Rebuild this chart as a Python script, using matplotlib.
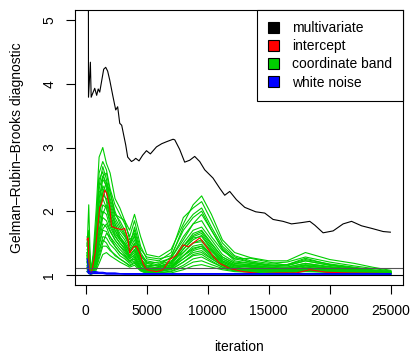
import matplotlib
matplotlib.use("Agg")
import matplotlib.pyplot as plt
from matplotlib.patches import Patch

plt.rcParams['font.family'] = ['Liberation Sans', 'DejaVu Sans']

# multivariate (black)
multi_iter = [120, 230, 385, 450, 740, 900, 1025, 1150, 1475, 1640, 1800, 1970, 2215, 2460,
              2620, 2790, 2950, 3280, 3440, 3750, 3930, 4100, 4370, 4670, 4980, 5300, 5800,
              6230, 6610, 7160, 7300, 7700, 8110, 8520, 8930, 9340, 9750, 10430, 10980, 11390,
              11800, 12350, 13030, 13930, 14670, 15350, 16170, 16860, 17680, 18360, 18770,
              19450, 20270, 21090, 21780, 22600, 23420, 24370, 24960]
multi_R = [30.0, 3.79, 4.34, 3.79, 3.93, 3.82, 3.92, 3.87, 4.23, 4.26, 4.20, 4.06, 3.82, 3.59,
           3.64, 3.38, 3.35, 3.04, 2.85, 2.78, 2.80, 2.83, 2.79, 2.88, 2.95, 2.90, 3.01,
           3.06, 3.09, 3.13, 3.12, 2.97, 2.77, 2.80, 2.86, 2.78, 2.65, 2.52, 2.36, 2.25,
           2.31, 2.18, 2.06, 1.99, 1.97, 1.87, 1.84, 1.80, 1.82, 1.84, 1.78,
           1.66, 1.69, 1.80, 1.84, 1.77, 1.73, 1.68, 1.67]

# intercept (red)
icpt_iter = [120, 200, 290, 370, 450, 570, 780, 980, 1150, 1310, 1560, 1720, 1970, 2110,
             2520, 2930, 3200, 3470, 3610, 3930, 4160, 4430, 4700, 4980, 5800, 6340, 6890,
             7430, 7980, 8390, 8800, 9350, 9890, 10440, 10980, 11800, 12890, 14260, 15900,
             17270, 18360, 19730, 21370, 24920]
icpt_R = [1.55, 1.58, 1.08, 1.03, 1.02, 1.12, 1.35, 1.75, 2.06, 2.12, 2.33, 2.28, 2.07, 1.76,
          1.73, 1.71, 1.73, 1.55, 1.34, 1.44, 1.45, 1.34, 1.18, 1.08, 1.05, 1.08, 1.24,
          1.31, 1.47, 1.44, 1.50, 1.58, 1.44, 1.29, 1.18, 1.10, 1.05, 1.02, 1.03,
          1.03, 1.08, 1.04, 1.03, 1.02]

# coordinate band (green) and white noise (blue) share one iteration grid
band_iter = [120, 250, 400, 600, 850, 1100, 1400, 1700, 2000, 2400, 2800, 3200, 3600, 4000,
             4500, 5000, 6000, 7000, 8000, 8800, 9500, 10300, 11200, 12200, 13500, 15000,
             16500, 18000, 20000, 22000, 23500, 25000]

coord_band = [
    [1.45, 2.10, 1.05, 1.30, 2.00, 2.85, 3.00, 2.75, 2.60, 2.20, 2.05, 1.85, 1.70, 1.95, 1.60, 1.32,
     1.28, 1.40, 1.80, 2.10, 2.24, 1.95, 1.55, 1.35, 1.27, 1.22, 1.22, 1.35, 1.24, 1.18, 1.12, 1.07],
    [1.30, 1.60, 1.08, 1.20, 1.80, 2.60, 2.78, 2.65, 2.35, 2.10, 1.95, 1.80, 1.60, 1.85, 1.45, 1.25,
     1.22, 1.35, 1.90, 2.05, 2.15, 1.85, 1.50, 1.30, 1.22, 1.18, 1.20, 1.28, 1.20, 1.14, 1.10, 1.06],
    [1.50, 1.40, 1.03, 1.15, 1.70, 2.40, 2.70, 2.50, 2.20, 1.95, 1.85, 1.70, 1.50, 1.70, 1.35, 1.20,
     1.15, 1.28, 1.75, 1.95, 2.05, 1.75, 1.45, 1.28, 1.20, 1.15, 1.16, 1.24, 1.17, 1.12, 1.08, 1.05],
    [1.20, 1.35, 1.05, 1.25, 1.60, 2.20, 2.50, 2.40, 2.10, 1.85, 1.70, 1.60, 1.45, 1.60, 1.30, 1.18,
     1.20, 1.26, 1.55, 1.80, 1.85, 1.60, 1.38, 1.25, 1.26, 1.20, 1.15, 1.22, 1.15, 1.10, 1.07, 1.05],
    [1.35, 1.25, 1.02, 1.10, 1.50, 2.00, 2.40, 2.30, 2.00, 1.80, 1.65, 1.55, 1.40, 1.55, 1.25, 1.14,
     1.10, 1.20, 1.50, 1.70, 1.75, 1.55, 1.32, 1.20, 1.18, 1.14, 1.12, 1.18, 1.13, 1.09, 1.06, 1.04],
    [1.25, 1.45, 1.06, 1.18, 1.45, 1.90, 2.25, 2.20, 1.95, 1.75, 1.60, 1.50, 1.35, 1.45, 1.22, 1.12,
     1.08, 1.17, 1.45, 1.65, 1.70, 1.50, 1.28, 1.18, 1.15, 1.12, 1.10, 1.16, 1.12, 1.08, 1.06, 1.04],
    [1.15, 1.20, 1.04, 1.12, 1.40, 1.80, 2.10, 2.05, 1.85, 1.65, 1.55, 1.45, 1.30, 1.40, 1.20, 1.10,
     1.12, 1.15, 1.40, 1.55, 1.62, 1.42, 1.25, 1.16, 1.14, 1.10, 1.09, 1.14, 1.10, 1.07, 1.05, 1.03],
    [1.40, 1.30, 1.03, 1.08, 1.35, 1.70, 2.00, 1.95, 1.75, 1.60, 1.50, 1.40, 1.28, 1.35, 1.18, 1.08,
     1.06, 1.12, 1.35, 1.50, 1.55, 1.38, 1.22, 1.14, 1.12, 1.09, 1.08, 1.12, 1.09, 1.06, 1.04, 1.03],
    [1.10, 1.15, 1.02, 1.10, 1.30, 1.60, 1.90, 1.85, 1.70, 1.55, 1.45, 1.35, 1.25, 1.32, 1.15, 1.09,
     1.05, 1.10, 1.30, 1.45, 1.48, 1.32, 1.20, 1.12, 1.10, 1.08, 1.07, 1.10, 1.08, 1.05, 1.04, 1.03],
    [1.30, 1.10, 1.05, 1.06, 1.25, 1.55, 1.80, 1.75, 1.60, 1.50, 1.40, 1.32, 1.22, 1.28, 1.12, 1.06,
     1.10, 1.12, 1.25, 1.38, 1.42, 1.28, 1.17, 1.10, 1.09, 1.07, 1.06, 1.09, 1.07, 1.05, 1.03, 1.02],
    [1.20, 1.25, 1.02, 1.05, 1.20, 1.45, 1.70, 1.68, 1.55, 1.45, 1.35, 1.28, 1.20, 1.25, 1.10, 1.05,
     1.05, 1.08, 1.20, 1.32, 1.35, 1.25, 1.15, 1.09, 1.08, 1.06, 1.06, 1.08, 1.06, 1.04, 1.03, 1.02],
    [1.05, 1.10, 1.02, 1.04, 1.15, 1.35, 1.60, 1.58, 1.48, 1.40, 1.30, 1.25, 1.18, 1.22, 1.08, 1.04,
     1.03, 1.06, 1.15, 1.25, 1.28, 1.20, 1.12, 1.07, 1.06, 1.05, 1.05, 1.07, 1.05, 1.04, 1.03, 1.02],
    [1.15, 1.05, 1.01, 1.03, 1.10, 1.25, 1.45, 1.45, 1.38, 1.32, 1.25, 1.20, 1.14, 1.18, 1.07, 1.03,
     1.03, 1.05, 1.12, 1.20, 1.22, 1.16, 1.10, 1.06, 1.05, 1.04, 1.04, 1.06, 1.04, 1.03, 1.02, 1.02],
    [1.08, 1.02, 1.01, 1.02, 1.07, 1.18, 1.32, 1.35, 1.30, 1.25, 1.20, 1.16, 1.12, 1.15, 1.06, 1.02,
     1.02, 1.03, 1.08, 1.14, 1.16, 1.12, 1.08, 1.05, 1.04, 1.03, 1.03, 1.05, 1.04, 1.03, 1.02, 1.01],
    [1.60, 1.30, 1.03, 1.10, 1.40, 1.90, 2.30, 2.45, 2.30, 1.95, 1.90, 1.85, 1.55, 1.65, 1.30, 1.22,
     1.18, 1.26, 1.60, 1.80, 1.95, 1.70, 1.42, 1.25, 1.20, 1.16, 1.14, 1.22, 1.15, 1.10, 1.07, 1.04],
    [1.25, 1.50, 1.04, 1.15, 1.55, 2.10, 2.55, 2.60, 2.30, 2.00, 1.80, 1.65, 1.45, 1.75, 1.40, 1.28,
     1.25, 1.30, 1.70, 1.90, 2.00, 1.70, 1.40, 1.22, 1.18, 1.14, 1.16, 1.26, 1.16, 1.11, 1.07, 1.05],
    [1.45, 1.70, 1.06, 1.22, 1.75, 2.50, 2.62, 2.35, 2.05, 1.80, 1.60, 1.45, 1.30, 1.40, 1.18, 1.07,
     1.05, 1.09, 1.20, 1.30, 1.32, 1.22, 1.12, 1.08, 1.07, 1.05, 1.05, 1.07, 1.05, 1.04, 1.03, 1.02],
    [1.10, 1.15, 1.02, 1.05, 1.20, 1.40, 1.55, 1.50, 1.40, 1.30, 1.25, 1.20, 1.15, 1.20, 1.08, 1.06,
     1.12, 1.20, 1.45, 1.60, 1.65, 1.45, 1.25, 1.15, 1.12, 1.09, 1.10, 1.15, 1.10, 1.07, 1.05, 1.03],
    [1.35, 1.20, 1.03, 1.12, 1.60, 2.30, 2.35, 2.15, 1.90, 1.70, 1.55, 1.48, 1.35, 1.50, 1.25, 1.15,
     1.14, 1.18, 1.40, 1.58, 1.60, 1.40, 1.22, 1.14, 1.13, 1.10, 1.10, 1.14, 1.10, 1.07, 1.05, 1.03],
    [1.20, 1.40, 1.05, 1.20, 1.50, 2.05, 2.20, 2.05, 1.80, 1.62, 1.50, 1.42, 1.30, 1.38, 1.20, 1.12,
     1.16, 1.22, 1.35, 1.50, 1.52, 1.36, 1.20, 1.12, 1.15, 1.12, 1.08, 1.10, 1.08, 1.06, 1.04, 1.03],
    [1.05, 1.08, 1.01, 1.04, 1.12, 1.30, 1.50, 1.65, 1.60, 1.45, 1.35, 1.30, 1.22, 1.25, 1.10, 1.05,
     1.07, 1.10, 1.25, 1.35, 1.38, 1.26, 1.14, 1.08, 1.07, 1.06, 1.05, 1.08, 1.06, 1.04, 1.03, 1.02],
    [1.30, 1.55, 1.04, 1.14, 1.65, 2.35, 2.55, 2.45, 2.15, 1.90, 1.75, 1.62, 1.48, 1.62, 1.32, 1.18,
     1.13, 1.20, 1.45, 1.62, 1.68, 1.48, 1.28, 1.18, 1.16, 1.12, 1.12, 1.18, 1.12, 1.08, 1.05, 1.04],
    [1.12, 1.18, 1.02, 1.06, 1.22, 1.50, 1.72, 1.80, 1.68, 1.55, 1.45, 1.38, 1.26, 1.30, 1.12, 1.08,
     1.09, 1.14, 1.30, 1.42, 1.45, 1.32, 1.18, 1.10, 1.10, 1.08, 1.08, 1.11, 1.08, 1.05, 1.04, 1.02],
    [1.18, 1.28, 1.03, 1.09, 1.30, 1.65, 1.95, 2.10, 1.95, 1.70, 1.58, 1.50, 1.38, 1.48, 1.20, 1.10,
     1.08, 1.12, 1.30, 1.40, 1.45, 1.30, 1.16, 1.10, 1.09, 1.07, 1.07, 1.10, 1.07, 1.05, 1.04, 1.02],
]

white_noise = [
    [1.25, 1.06, 1.04, 1.05, 1.05, 1.04, 1.04, 1.03, 1.03, 1.03, 1.02, 1.02, 1.02, 1.02, 1.02, 1.02,
     1.02, 1.02, 1.02, 1.02, 1.02, 1.02, 1.02, 1.02, 1.02, 1.02, 1.02, 1.02, 1.02, 1.02, 1.02, 1.02],
    [1.12, 1.03, 1.02, 1.03, 1.04, 1.03, 1.03, 1.02, 1.02, 1.02, 1.02, 1.01, 1.01, 1.01, 1.01, 1.01,
     1.01, 1.01, 1.01, 1.01, 1.01, 1.01, 1.01, 1.01, 1.01, 1.01, 1.01, 1.01, 1.01, 1.01, 1.01, 1.01],
    [1.05, 1.02, 1.01, 1.02, 1.02, 1.02, 1.02, 1.01, 1.01, 1.01, 1.01, 1.01, 1.01, 1.01, 1.01, 1.01,
     1.01, 1.01, 1.01, 1.01, 1.01, 1.01, 1.01, 1.01, 1.01, 1.01, 1.01, 1.01, 1.01, 1.01, 1.01, 1.01],
]

legend_labels = ['multivariate', 'intercept', 'coordinate band', 'white noise']
legend_colors = ['black', 'red', '#00CD00', 'blue']

fig = plt.figure(figsize=(4.13, 3.58), dpi=100)
ax = fig.add_axes([0.1816, 0.2039, 0.7942, 0.7681])

for row in coord_band:
    ax.plot(band_iter, row, color='#00CD00', lw=0.8)
ax.plot(icpt_iter, icpt_R, color='red', lw=0.8)
for row in white_noise:
    ax.plot(band_iter, row, color='blue', lw=0.8)
ax.plot(multi_iter, multi_R, color='black', lw=0.8)

ax.axhline(1.1, color='#555555', lw=0.8)
ax.axhline(1.0, color='black', lw=0.8)

# R-style 4% padding
x0, x1 = min(band_iter), max(band_iter)
pad = (x1 - x0) * 0.04
ax.set_xlim(x0 - pad, x1 + pad)
ax.set_ylim(1 - 0.16, 5 + 0.16)

ax.set_xticks(range(0, 25001, 5000))
ax.set_yticks([1, 2, 3, 4, 5])
ax.tick_params(direction='out', length=6.5, width=0.8, labelsize=10, pad=7)
for lbl in ax.get_yticklabels():
    lbl.set_rotation(90)
    lbl.set_va('center')
for s in ax.spines.values():
    s.set_linewidth(0.8)

ax.set_xlabel('iteration', fontsize=10)
ax.xaxis.set_label_coords(0.5, -0.225)
ax.xaxis.label.set_va('center')
ax.set_ylabel('Gelman\u2013Rubin\u2013Brooks diagnostic', fontsize=10)
ax.yaxis.set_label_coords(-0.177, 0.5)
ax.yaxis.label.set_va('center')

handles = [Patch(facecolor=c, edgecolor='black', lw=0.8) for c in legend_colors]
leg = ax.legend(handles, legend_labels, loc='upper right', bbox_to_anchor=(1, 1),
                borderaxespad=0, fancybox=False, edgecolor='black', framealpha=1,
                fontsize=10, handlelength=0.8, handleheight=0.8, handletextpad=0.9,
                labelspacing=0.3, borderpad=0.8)
leg.get_frame().set_linewidth(0.8)

fig.savefig('out.png', dpi=100)
